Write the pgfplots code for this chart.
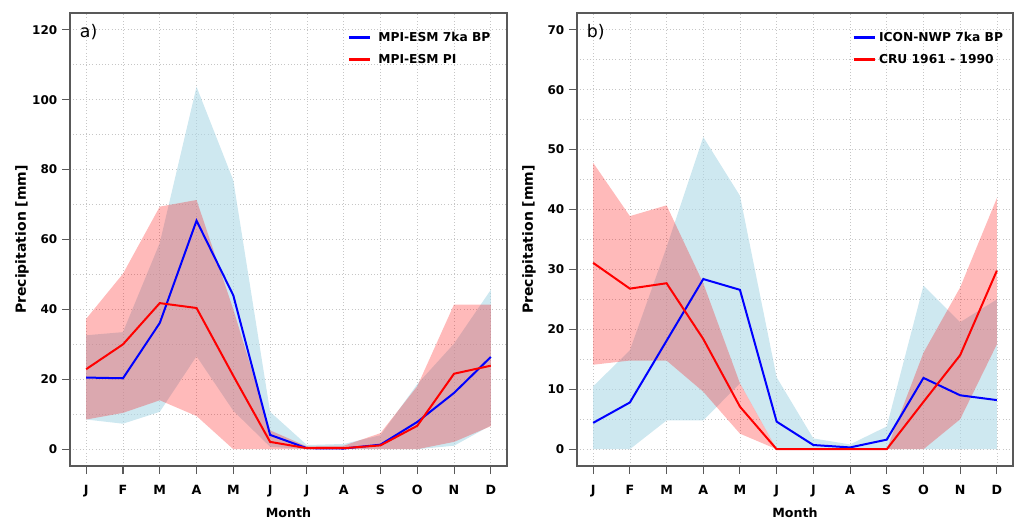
\documentclass[border=0pt]{standalone}
\usepackage{pgfplots}
\pgfplotsset{compat=1.18}
\usepackage{pgfplotstable}
\usepackage{fontspec}
\setmainfont{DejaVu Sans}

\definecolor{bandblue}{RGB}{173,216,230}
\definecolor{lineblue}{RGB}{0,0,255}
\definecolor{linered}{RGB}{255,0,0}

% panel a: MPI-ESM
\pgfplotstableread{
m  bmean bup   blo   rmean rup  rlo
1  20.5  32.6  8.5   22.9  37.3 8.5
2  20.3  33.5  7.3   30.0  50.2 10.4
3  36.1  59.0  10.7  41.8  69.4 14.0
4  65.4  103.7 26.6  40.4  71.3 9.5
5  44.0  76.9  11.0  21.0  40.0 0.0
6  4.1   10.7  0.7   2.1   5.4  0.0
7  0.3   1.2   0.0   0.3   0.8  0.0
8  0.2   1.5   0.0   0.3   1.0  0.0
9  1.3   4.0   0.0   1.1   4.6  0.0
10 7.8   18.6  0.0   6.7   18.0 0.0
11 16.1  30.2  1.0   21.6  41.4 2.1
12 26.4  45.6  6.8   23.9  41.4 6.6
}\tabA

% panel b: ICON-NWP and CRU
\pgfplotstableread{
m  bmean bup  blo  rmean rup  rlo
1  4.4   10.5 0.0  31.1  47.8 14.1
2  7.8   16.5 0.0  26.8  38.9 14.8
3  18.1  33.7 4.8  27.7  40.7 14.8
4  28.4  52.1 4.8  18.4  27.7 9.6
5  26.6  42.3 11.0 7.1   11.0 2.6
6  4.6   12.0 0.0  0.0   0.0  0.0
7  0.7   1.8  0.0  0.0   0.0  0.0
8  0.3   0.8  0.0  0.0   0.0  0.0
9  1.6   3.8  0.0  0.0   0.0  0.0
10 11.9  27.3 0.0  7.9   16.1 0.0
11 9.0   21.2 0.0  15.7  27.0 5.0
12 8.2   25.0 0.0  29.8  41.9 17.5
}\tabB

\pgfplotsset{
  precip/.style={
    scale only axis, height=339.75pt,
    xmin=0.56, xmax=12.44,
    xtick={1,...,12}, xticklabels={J,F,M,A,M,J,J,A,S,O,N,D},
    xtick pos=bottom, ytick pos=left,
    tick align=outside, major tick length=6pt, minor tick length=0pt,
    grid=both,
    major grid style={dotted, gray!45, line width=0.5pt},
    minor grid style={dotted, gray!45, line width=0.5pt},
    axis line style={black!65, line width=0.8pt},
    tick style={black!65, line width=0.8pt},
    yticklabel style={font=\fontsize{9}{10}\selectfont\bfseries},
    xticklabel style={font=\fontsize{9.5}{10}\selectfont\bfseries, yshift=-5pt},
    /pgf/number format/assume math mode=true,
    xlabel={Month}, ylabel={Precipitation [mm]},
    xlabel style={font=\fontsize{9.5}{11}\selectfont\bfseries,
      at={(axis description cs:0.5,-0.104)}, anchor=center},
    ylabel style={font=\fontsize{10.5}{12}\selectfont\bfseries,
      at={(axis description cs:-0.11,0.5)}, anchor=center},
    legend style={draw=none, fill=none, font=\fontsize{9.2}{11}\selectfont\bfseries,
      anchor=north east, row sep=4pt},
    legend cell align=left,
    legend image code/.code={\draw[#1, line width=2.2pt] (0pt,0pt) -- (16pt,0pt);},
  },
  band/.style={draw=none, forget plot},
  mline/.style={line width=1.5pt, mark=none},
}

\begin{document}
\begin{tikzpicture}
\begin{axis}[precip, at={(52.5pt,41.25pt)}, anchor=south west, width=327.75pt,
  ymin=-4.8, ymax=124.8, ytick={0,20,...,120}, minor ytick={10,30,...,110},
  legend style={at={(axis description cs:0.978,0.97)},
    /tikz/every odd column/.append style={column sep=3pt}}]
\addplot[band, fill=bandblue, fill opacity=0.6] coordinates {
 (1,32.6) (2,33.5) (3,59.0) (4,103.7) (5,76.9) (6,10.7) (7,1.2) (8,1.5) (9,4.0) (10,18.6) (11,30.2) (12,45.6)
 (12,6.8) (11,1.0) (10,0) (9,0) (8,0) (7,0) (6,0.7) (5,11.0) (4,26.6) (3,10.7) (2,7.3) (1,8.5)} -- cycle;
\addplot[band, fill=red, fill opacity=0.27] coordinates {
 (1,37.3) (2,50.2) (3,69.4) (4,71.3) (5,40.0) (6,5.4) (7,0.8) (8,1.0) (9,4.6) (10,18.0) (11,41.4) (12,41.4)
 (12,6.6) (11,2.1) (10,0) (9,0) (8,0) (7,0) (6,0) (5,0) (4,9.5) (3,14.0) (2,10.4) (1,8.5)} -- cycle;
\addplot[mline, lineblue] table[x=m, y=bmean] {\tabA};
\addlegendentry{MPI-ESM 7ka BP}
\addplot[mline, linered] table[x=m, y=rmean] {\tabA};
\addlegendentry{MPI-ESM PI}
\node[anchor=west, font=\fontsize{13}{15}\selectfont] at (axis description cs:0.012,0.958) {a)};
\end{axis}

\begin{axis}[precip, at={(432.75pt,41.25pt)}, anchor=south west, width=327pt,
  ymin=-2.8, ymax=72.8, ytick={0,10,...,70}, minor ytick={5,15,...,65},
  legend style={at={(axis description cs:0.993,0.97)},
    /tikz/every odd column/.append style={column sep=0pt}}]
\addplot[band, fill=bandblue, fill opacity=0.6] coordinates {
 (1,10.5) (2,16.5) (3,33.7) (4,52.1) (5,42.3) (6,12.0) (7,1.8) (8,0.8) (9,3.8) (10,27.3) (11,21.2) (12,25.0)
 (12,0) (11,0) (10,0) (9,0) (8,0) (7,0) (6,0) (5,11.0) (4,4.8) (3,4.8) (2,0) (1,0)} -- cycle;
\addplot[band, fill=red, fill opacity=0.27] coordinates {
 (1,47.8) (2,38.9) (3,40.7) (4,27.7) (5,11.0) (6,0) (7,0) (8,0) (9,0) (10,16.1) (11,27.0) (12,41.9)
 (12,17.5) (11,5.0) (10,0) (9,0) (8,0) (7,0) (6,0) (5,2.6) (4,9.6) (3,14.8) (2,14.8) (1,14.1)} -- cycle;
\addplot[mline, lineblue] table[x=m, y=bmean] {\tabB};
\addlegendentry{ICON-NWP 7ka BP}
\addplot[mline, linered] table[x=m, y=rmean] {\tabB};
\addlegendentry{CRU 1961 - 1990}
\node[anchor=west, font=\fontsize{13}{15}\selectfont] at (axis description cs:0.012,0.958) {b)};
\end{axis}
\pgfresetboundingbox
\path (0,0) rectangle (767.25pt,390.75pt);
\end{tikzpicture}
\end{document}
